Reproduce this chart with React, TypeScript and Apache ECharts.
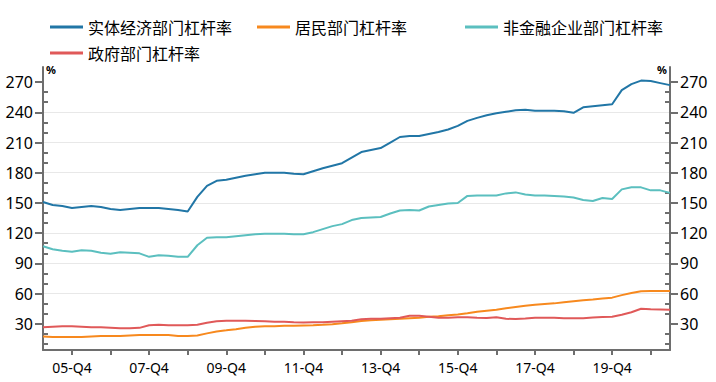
import React, { useEffect, useRef } from "react";
import * as echarts from "echarts";

const quarters: string[] = [];
for (let y = 5; y <= 21; y++) {
  for (let q = 1; q <= 4; q++) {
    if (y === 21 && q > 2) break;
    quarters.push(`${String(y).padStart(2, "0")}-Q${q}`);
  }
}

const realEconomy = [
  151, 148, 147, 145, 146, 147, 146, 144, 143, 144, 145, 145, 145, 144, 143, 141.5,
  156, 167, 172, 173, 175, 177, 178.5, 180, 180, 180, 179, 178.5, 181.5, 184.5, 187, 189.5,
  195, 200.5, 202.5, 204.5, 210, 215.5, 216.5, 216.5, 218.5, 220.5, 223, 226.5, 231.5, 234.5, 237, 239,
  240.5, 242, 242.5, 241.5, 241.5, 241.5, 241, 239.5, 245, 246, 247, 248, 262, 268, 271.5, 271,
  269, 267,
];
const household = [
  17.5, 17, 16.8, 16.8, 16.8, 17.5, 17.8, 17.8, 17.8, 18.5, 19, 19, 19, 19, 18, 17.8,
  18.5, 20.5, 22.4, 23.5, 24.7, 26, 27.2, 27.7, 27.7, 28, 28, 28.3, 28.5, 29, 29.6, 30.5,
  31.5, 32.8, 33.5, 34, 34.5, 35, 35.5, 36, 37, 37.5, 38.5, 39.3, 40.5, 42, 43, 44,
  45.5, 46.8, 48, 49, 49.7, 50.3, 51.3, 52.3, 53.3, 54.2, 55.2, 56, 58.5, 60.5, 62.3, 62.5,
  62.5, 62.5,
];
const nonFinCorp = [
  107, 104, 102.5, 101.5, 103, 102.5, 100.5, 99.5, 101, 100.5, 100, 96.5, 98, 97.5, 96.5, 96.5,
  108, 115.5, 116, 116, 117, 118, 119, 119.5, 119.5, 119.5, 119, 119, 121, 124, 127, 129,
  133, 135, 135.5, 136, 139.5, 142.5, 143, 142.5, 146.5, 148, 149.5, 150, 157, 157.5, 157.5, 157.5,
  159.5, 160.5, 158.5, 157.5, 157.5, 157, 156.5, 155.5, 153, 152, 155, 154, 163.5, 165.5, 165.5, 162.5,
  162.5, 160,
];
const government = [
  26.5, 27, 27.5, 27.5, 27, 26.5, 26.5, 26, 25.5, 25.5, 26, 28.5, 29, 28.5, 28.5, 28.5,
  29, 31, 32.5, 33, 33, 33, 32.8, 32.5, 32, 32, 31.5, 31.3, 31.5, 31.5, 32, 32.5,
  33, 34.5, 35, 35, 35.5, 36, 38, 38, 37, 36, 36, 36.5, 36.5, 36, 35.7, 36.5,
  35, 34.7, 35.3, 36, 36, 36, 35.5, 35.5, 35.5, 36.2, 36.7, 37, 39, 41.5, 45, 44.5,
  44.3, 44,
];

const seriesNames = ["实体经济部门杠杆率", "居民部门杠杆率", "非金融企业部门杠杆率", "政府部门杠杆率"];
const seriesColors = ["#2176a6", "#f7891e", "#5bbfbf", "#e05959"];
const majorTicks = [30, 60, 90, 120, 150, 180, 210, 240, 270];
const minorTicks = [10, 20, 40, 50, 70, 80, 100, 110, 130, 140, 160, 170, 190, 200, 220, 230, 250, 260];

const axisColor = "#6e6e6e";
const cjkFont = "'Noto Sans CJK SC', 'Noto Sans', sans-serif";
const numFont = "'Noto Sans', 'DejaVu Sans', sans-serif";

export default function App() {
  const ref = useRef<HTMLDivElement>(null);
  useEffect(() => {
    if (!ref.current) return;
    const chart = echarts.init(ref.current, undefined, { renderer: "svg" });
    const yMin = 4;
    const yMax = 285;
    const legendBase = {
      icon: "rect",
      itemWidth: 33,
      itemHeight: 3,
      padding: 0,
      textStyle: { fontSize: 16, color: "#000", fontFamily: cjkFont },
    };
    const majorAxis = (position: "left" | "right") => ({
      type: "value",
      position,
      min: yMin,
      max: yMax,
      splitNumber: 9,
      name: "%",
      nameLocation: "end",
      nameGap: -2,
      nameTextStyle: {
        fontSize: 11,
        fontWeight: "bold",
        color: "#000",
        fontFamily: numFont,
        align: position === "left" ? "left" : "right",
        verticalAlign: "middle",
        padding: position === "left" ? [0, 0, 0, 3] : [0, 3, 0, 0],
      },
      axisLine: { show: true, lineStyle: { color: axisColor, width: 2 } },
      axisTick: { show: true, length: 8, customValues: majorTicks, lineStyle: { color: axisColor, width: 2 } },
      axisLabel: {
        customValues: majorTicks,
        fontSize: 16,
        color: "#000",
        fontFamily: numFont,
        margin: 10,
        formatter: (v: number) => (v % 30 === 0 ? String(v) : ""),
      },
      splitLine: {
        show: position === "left",
        showMinLine: false,
        showMaxLine: false,
        lineStyle: { color: "#e8e8e8", width: 1 },
      },
    });
    const minorAxis = (position: "left" | "right") => ({
      type: "value",
      position,
      min: yMin,
      max: yMax,
      splitNumber: 9,
      axisLine: { show: false },
      axisTick: { show: true, inside: true, length: 5, customValues: minorTicks, lineStyle: { color: axisColor, width: 2 } },
      axisLabel: { show: false },
      splitLine: { show: false },
    });
    const values = [realEconomy, household, nonFinCorp, government];
    chart.setOption({
      animation: false,
      backgroundColor: "#fff",
      legend: [
        { ...legendBase, left: 50, top: 19, data: [seriesNames[0]] },
        { ...legendBase, left: 257, top: 19, data: [seriesNames[1]] },
        { ...legendBase, left: 465, top: 19, data: [seriesNames[2]] },
        { ...legendBase, left: 50, top: 45, data: [seriesNames[3]] },
      ],
      grid: { left: 43, right: 46, top: 67, bottom: 32, containLabel: false },
      xAxis: {
        type: "category",
        data: quarters,
        boundaryGap: false,
        axisLine: { show: true, lineStyle: { color: axisColor, width: 2 } },
        axisTick: {
          show: true,
          length: 5,
          interval: (_i: number, v: string) => v.endsWith("Q4"),
          lineStyle: { color: axisColor, width: 2 },
        },
        axisLabel: {
          interval: (_i: number, v: string) => v.endsWith("Q4") && parseInt(v.slice(0, 2), 10) % 2 === 1,
          fontSize: 14,
          color: "#000",
          fontFamily: numFont,
          margin: 10,
        },
        splitLine: { show: false },
      },
      yAxis: [majorAxis("left"), minorAxis("left"), majorAxis("right"), minorAxis("right")],
      series: seriesNames.map((name, k) => ({
        name,
        type: "line",
        data: values[k],
        yAxisIndex: 0,
        symbol: "none",
        showSymbol: false,
        color: seriesColors[k],
        lineStyle: { color: seriesColors[k], width: 2 },
      })),
    });
    return () => chart.dispose();
  }, []);
  return <div ref={ref} style={{ position: "absolute", left: 0, top: 0, width: 716, height: 382 }} />;
}
